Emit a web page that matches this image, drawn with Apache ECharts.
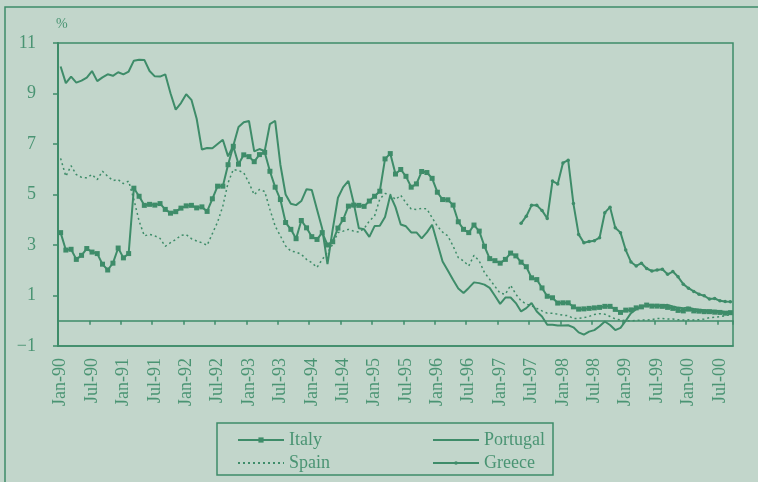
<!DOCTYPE html>
<html>
<head>
<meta charset="utf-8">
<script src="https://cdn.jsdelivr.net/npm/echarts@6/dist/echarts.min.js"></script>
<style>
  html, body { margin: 0; padding: 0; background: #c2d6cb; }
  #chart { width: 758px; height: 482px; }
</style>
</head>
<body>
<div id="chart"></div>
<script>
// monthly, Jan-90 .. Sep-00
const monthNames = ['Jan', 'Feb', 'Mar', 'Apr', 'May', 'Jun', 'Jul', 'Aug', 'Sep', 'Oct', 'Nov', 'Dec']
const categories = []
for (let i = 0; i < 129; i++) {
  const yr = (1990 + Math.floor(i / 12)) % 100
  categories.push(monthNames[i % 12] + '-' + String(yr).padStart(2, '0'))
}

const yTicks = [-1, 1, 3, 5, 7, 9, 11]

const italy = [
  3.49, 2.80, 2.83, 2.43, 2.59, 2.86, 2.72, 2.66, 2.24, 2.01, 2.28, 2.88, 2.49, 2.66,
  5.25, 4.93, 4.57, 4.61, 4.58, 4.64, 4.41, 4.26, 4.32, 4.46, 4.55, 4.57, 4.47, 4.51, 4.33, 4.83, 5.33, 5.33,
  6.18, 6.91, 6.20, 6.57, 6.50, 6.30, 6.58, 6.67, 5.92, 5.29, 4.80, 3.89, 3.62, 3.25, 3.97, 3.68,
  3.33, 3.22, 3.49, 3.00, 3.13, 3.67, 4.01, 4.54, 4.58, 4.57, 4.53, 4.74, 4.93, 5.13, 6.41, 6.62,
  5.81, 5.99, 5.72, 5.29, 5.42, 5.91, 5.87, 5.64, 5.09, 4.80, 4.79, 4.58, 3.92, 3.62, 3.49, 3.79, 3.55,
  2.95, 2.46, 2.38, 2.28, 2.43, 2.68, 2.57, 2.32, 2.14, 1.70, 1.63, 1.30, 0.97, 0.91, 0.70, 0.71, 0.71,
  0.55, 0.46, 0.47, 0.49, 0.51, 0.53, 0.57, 0.57, 0.45, 0.33, 0.42, 0.43, 0.51, 0.55, 0.62, 0.58,
  0.58, 0.57, 0.53, 0.49, 0.41, 0.39, 0.46, 0.39, 0.38, 0.36, 0.36, 0.34, 0.33, 0.30, 0.32
]

const portugal = [
  10.07, 9.41, 9.67, 9.43, 9.51, 9.63, 9.89, 9.49, 9.64, 9.76, 9.70, 9.84, 9.76, 9.87, 10.30, 10.34,
  10.33, 9.89, 9.68, 9.67, 9.76, 9.01, 8.36, 8.62, 8.97, 8.75, 8.00, 6.78, 6.84, 6.83, 7.00, 7.17,
  6.51, 6.93, 7.67, 7.86, 7.91, 6.71, 6.80, 6.72, 7.79, 7.92, 6.18, 5.00, 4.63, 4.58, 4.74, 5.21,
  5.18, 4.41, 3.64, 2.24, 3.62, 4.87, 5.29, 5.54, 4.67, 3.66, 3.62, 3.32, 3.75, 3.76, 4.11, 4.97,
  4.50, 3.81, 3.74, 3.50, 3.50, 3.26, 3.50, 3.80, 3.07, 2.35, 1.99, 1.62, 1.28, 1.10, 1.30, 1.52, 1.49,
  1.43, 1.30, 0.99, 0.67, 0.92, 0.92, 0.70, 0.37, 0.50, 0.70, 0.37, 0.17, -0.16, -0.16, -0.19, -0.19, -0.18,
  -0.26, -0.46, -0.55, -0.43, -0.37, -0.22, -0.03, -0.17, -0.37, -0.28, 0.00, 0.30, 0.46, 0.54, 0.62, 0.62,
  0.60, 0.60, 0.63, 0.57, 0.52, 0.50, 0.52, 0.47, 0.44, 0.42, 0.40, 0.40, 0.38, 0.35, 0.36
]

const spain = [
  6.43, 5.72, 6.14, 5.79, 5.68, 5.66, 5.79, 5.59, 5.92, 5.72, 5.55, 5.59, 5.43, 5.53, 4.80, 3.95,
  3.36, 3.42, 3.36, 3.26, 2.95, 3.09, 3.22, 3.38, 3.41, 3.25, 3.16, 3.09, 2.99, 3.45, 3.91, 4.54,
  5.46, 5.99, 5.95, 5.86, 5.46, 4.99, 5.20, 5.12, 4.41, 3.75, 3.36, 2.96, 2.76, 2.72, 2.63, 2.43,
  2.30, 2.11, 2.43, 2.70, 3.03, 3.49, 3.55, 3.62, 3.55, 3.51, 3.65, 3.95, 4.15, 4.82, 5.04, 5.00,
  4.80, 4.97, 4.67, 4.43, 4.41, 4.45, 4.43, 4.08, 3.75, 3.51, 3.36, 2.96, 2.50, 2.37, 2.17, 2.59, 2.37,
  1.91, 1.64, 1.36, 1.09, 1.05, 1.41, 1.05, 0.79, 0.66, 0.59, 0.49, 0.39, 0.30, 0.30, 0.26, 0.22, 0.20,
  0.09, 0.09, 0.12, 0.17, 0.25, 0.28, 0.26, 0.17, 0.07, 0.03, 0.00, 0.00, 0.01, 0.03, 0.03, 0.04,
  0.09, 0.09, 0.07, 0.07, 0.04, 0.03, 0.04, 0.03, 0.04, 0.07, 0.12, 0.14, 0.16, 0.20, 0.24
]

// Greece only from May-97 (index 88)
const greeceStart = 88
const greece = [
  3.86, 4.14, 4.57, 4.57, 4.37, 4.05, 5.53, 5.42, 6.25, 6.36, 4.64, 3.42, 3.09, 3.14, 3.17, 3.29,
  4.28, 4.50, 3.68, 3.49, 2.80, 2.33, 2.17, 2.28, 2.07, 1.97, 2.01, 2.04, 1.84, 1.95, 1.74, 1.45,
  1.29, 1.16, 1.05, 0.99, 0.86, 0.88, 0.79, 0.76, 0.75
]
const greeceData = new Array(greeceStart).fill(null).concat(greece)

const green = '#3e8c69'
const textColor = '#4a9473'
const serif = 'Liberation Serif'

const chart = echarts.init(document.getElementById('chart'))

const legendText = { fontFamily: serif, fontSize: 18, color: textColor, lineHeight: 20 }
// no marker in the legend for the plain lines
const noMarker = { opacity: 0 }

const options = {
  backgroundColor: '#c2d6cb',
  animation: false,
  grid: {
    left: 58,
    top: 43,
    right: 25,
    bottom: 136,
    show: true,
    borderColor: green,
    borderWidth: 1.5,
    backgroundColor: 'transparent'
  },
  legend: [
    {
      left: 237,
      top: 430,
      padding: 0,
      orient: 'vertical',
      itemWidth: 46,
      itemHeight: 6.5, // marker is 80% of this
      itemGap: 3,
      textStyle: legendText,
      data: ['Italy', { name: 'Spain', itemStyle: noMarker }]
    },
    {
      left: 432,
      top: 430,
      padding: 0,
      orient: 'vertical',
      itemWidth: 46,
      itemHeight: 4.5,
      itemGap: 3,
      textStyle: legendText,
      data: [{ name: 'Portugal', itemStyle: noMarker }, 'Greece']
    }
  ],
  xAxis: [
    {
      // labels at the bottom
      type: 'category',
      data: categories,
      boundaryGap: true,
      position: 'bottom',
      axisLine: { onZero: false, lineStyle: { color: green, width: 1.5 } },
      axisTick: { show: false },
      axisLabel: {
        interval: 5,
        rotate: 90,
        margin: 12,
        color: textColor,
        fontFamily: serif,
        fontSize: 18
      }
    },
    {
      // zero line with ticks
      type: 'category',
      data: categories,
      boundaryGap: true,
      position: 'top',
      axisLine: { onZero: true, lineStyle: { color: green, width: 1.5 } },
      axisTick: { show: true, inside: true, interval: 5, length: 4, lineStyle: { color: green, width: 1.5 } },
      axisLabel: { show: false }
    }
  ],
  yAxis: {
    type: 'value',
    min: -1,
    max: 11,
    interval: 2,
    splitLine: { show: false },
    axisLine: { show: true, lineStyle: { color: green, width: 2 } },
    axisTick: { show: true, length: 5, lineStyle: { color: green, width: 1.5 } },
    axisLabel: {
      margin: 22,
      color: textColor,
      fontFamily: serif,
      fontSize: 18,
      formatter: v => (yTicks.includes(v) ? String(v).replace('-', '\u2212') : '')
    }
  },
  series: [
    {
      name: 'Italy',
      type: 'line',
      data: italy,
      symbol: 'rect',
      symbolSize: 5,
      showAllSymbol: true,
      lineStyle: { color: green, width: 2 },
      itemStyle: { color: green }
    },
    {
      name: 'Portugal',
      type: 'line',
      data: portugal,
      symbol: 'none',
      lineStyle: { color: green, width: 2 },
      itemStyle: { color: green }
    },
    {
      name: 'Spain',
      type: 'line',
      data: spain,
      symbol: 'none',
      lineStyle: { color: green, width: 1.5, type: [2, 3] },
      itemStyle: { color: green }
    },
    {
      name: 'Greece',
      type: 'line',
      data: greeceData,
      symbol: 'circle',
      symbolSize: 3.5,
      showAllSymbol: true,
      lineStyle: { color: green, width: 2 },
      itemStyle: { color: green }
    }
  ],
  graphic: [
    {
      type: 'rect',
      shape: { x: 5, y: 7, width: 800, height: 500 },
      style: { fill: 'none', stroke: green, lineWidth: 1.5 },
      silent: true
    },
    {
      type: 'rect',
      shape: { x: 217, y: 423, width: 336, height: 52 },
      style: { fill: 'none', stroke: green, lineWidth: 1.5 },
      silent: true
    },
    {
      type: 'text',
      left: 56,
      top: 17,
      style: { text: '%', font: '14px "Liberation Serif"', fill: textColor }
    }
  ]
}

chart.setOption(options)
window.addEventListener('resize', () => {
  chart.resize()
})
</script>
</body>
</html>
